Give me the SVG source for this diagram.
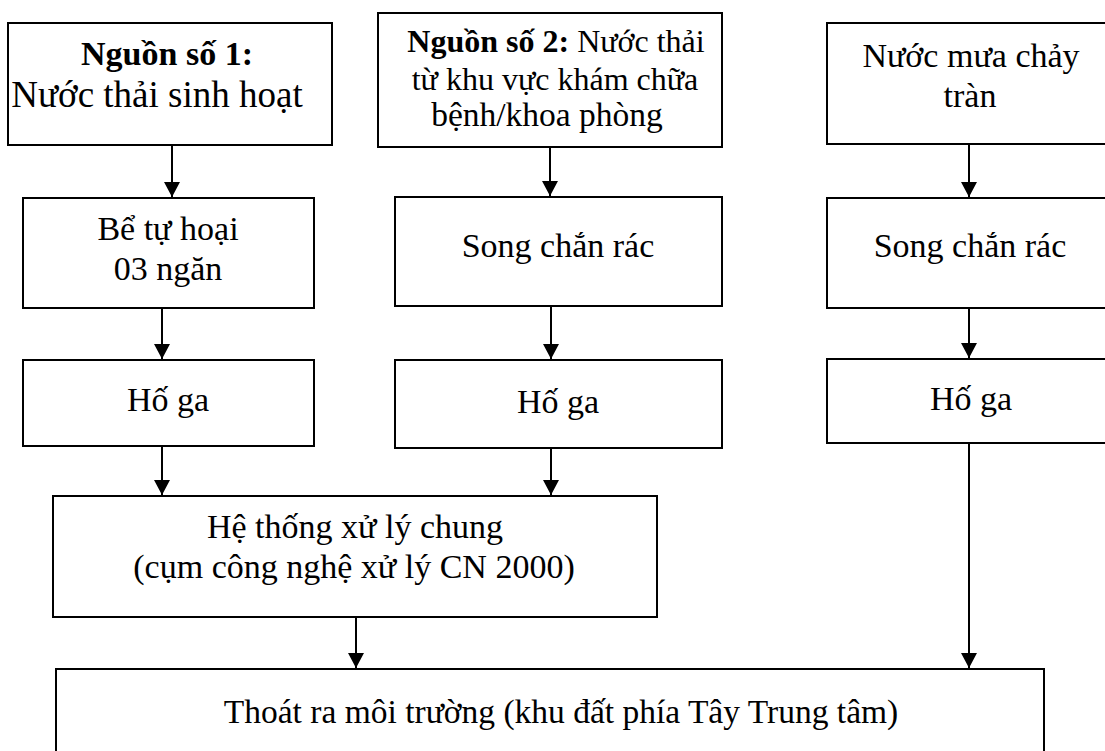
<svg xmlns="http://www.w3.org/2000/svg" width="1105" height="751" viewBox="0 0 1105 751">
  <style>
    .box { fill: #ffffff; stroke: #000000; stroke-width: 2; }
    .t { font-family: "Liberation Serif", "Times New Roman", serif; font-size: 34px; fill: #000000; text-anchor: middle; }
    .b { font-weight: bold; }
    .link { stroke: #000000; stroke-width: 2; fill: none; marker-end: url(#arrow); }
  </style>
  <defs>
    <marker id="arrow" viewBox="0 0 15 16" refX="15" refY="8" markerWidth="15" markerHeight="16" markerUnits="userSpaceOnUse" orient="auto">
      <path d="M0,0 L15,8 L0,16 Z" fill="#000000"/>
    </marker>
  </defs>
  <rect width="1105" height="751" fill="#ffffff"/>

  <!-- Column 1: domestic wastewater -->
  <g id="src1">
    <rect class="box" x="8" y="23" width="324" height="122"/>
    <text class="t" x="167" y="65"><tspan class="b">Nguồn số 1:</tspan></text>
    <text class="t" x="157" y="107" style="font-size:37px">Nước thải sinh hoạt</text>
  </g>
  <g id="septic">
    <rect class="box" x="23" y="198" width="291" height="110"/>
    <text class="t" x="168" y="240">Bể tự hoại</text>
    <text class="t" x="168" y="280">03 ngăn</text>
  </g>
  <g id="pit1">
    <rect class="box" x="23" y="360" width="291" height="86"/>
    <text class="t" x="168" y="411">Hố ga</text>
  </g>

  <!-- Column 2: clinical wastewater -->
  <g id="src2">
    <rect class="box" x="378" y="13" width="344" height="134"/>
    <text class="t" x="556" y="52" style="font-size:32px"><tspan class="b">Nguồn số 2:</tspan> Nước thải</text>
    <text class="t" x="555" y="90" style="font-size:32px">từ khu vực khám chữa</text>
    <text class="t" x="547" y="126" style="font-size:33.5px">bệnh/khoa phòng</text>
  </g>
  <g id="screen2">
    <rect class="box" x="395" y="197" width="327" height="109"/>
    <text class="t" x="558" y="257">Song chắn rác</text>
  </g>
  <g id="pit2">
    <rect class="box" x="395" y="360" width="327" height="88"/>
    <text class="t" x="558" y="413">Hố ga</text>
  </g>

  <!-- Column 3: stormwater -->
  <g id="src3">
    <rect class="box" x="827" y="23" width="290" height="121"/>
    <text class="t" x="971" y="67">Nước mưa chảy</text>
    <text class="t" x="970" y="107">tràn</text>
  </g>
  <g id="screen3">
    <rect class="box" x="827" y="198" width="290" height="110"/>
    <text class="t" x="970" y="257">Song chắn rác</text>
  </g>
  <g id="pit3">
    <rect class="box" x="827" y="359" width="290" height="84"/>
    <text class="t" x="971" y="410">Hố ga</text>
  </g>

  <!-- Shared treatment and discharge -->
  <g id="treatment">
    <rect class="box" x="53" y="496" width="604" height="121"/>
    <text class="t" x="355" y="538">Hệ thống xử lý chung</text>
    <text class="t" x="354" y="578">(cụm công nghệ xử lý CN 2000)</text>
  </g>
  <g id="discharge">
    <rect class="box" x="56" y="669" width="988" height="100"/>
    <text class="t" x="561" y="723" style="font-size:33.5px">Thoát ra môi trường (khu đất phía Tây Trung tâm)</text>
  </g>

  <g id="connectors">
    <line class="link" x1="172" y1="146" x2="172" y2="197"/>
    <line class="link" x1="162" y1="309" x2="162" y2="359"/>
    <line class="link" x1="162" y1="447" x2="162" y2="495"/>
    <line class="link" x1="550" y1="148" x2="550" y2="196"/>
    <line class="link" x1="551" y1="307" x2="551" y2="359"/>
    <line class="link" x1="551" y1="449" x2="551" y2="495"/>
    <line class="link" x1="969" y1="145" x2="969" y2="197"/>
    <line class="link" x1="969" y1="309" x2="969" y2="358"/>
    <line class="link" x1="969" y1="444" x2="969" y2="668"/>
    <line class="link" x1="356" y1="618" x2="356" y2="668"/>
  </g>
</svg>
